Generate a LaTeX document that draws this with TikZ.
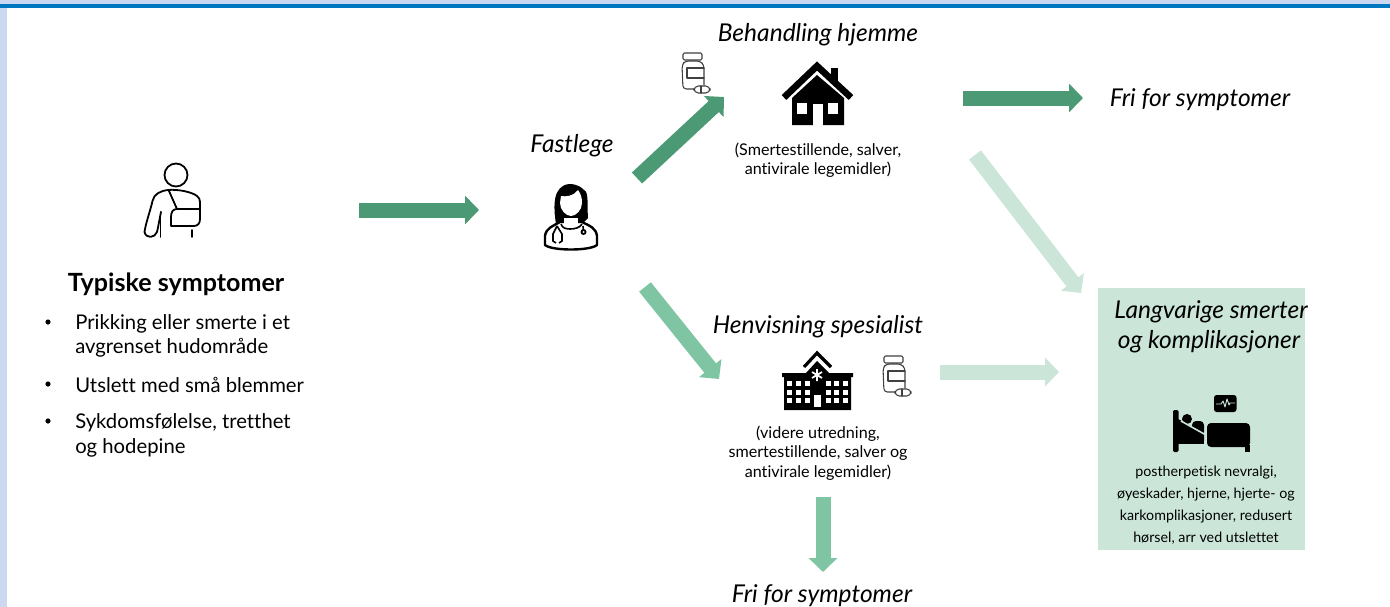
\documentclass[tikz,border=0pt]{standalone}
\usepackage{fontspec}
\setmainfont{Lato}[Ligatures=NoCommon]
\usetikzlibrary{arrows.meta}
\definecolor{gdark}{HTML}{4C9A75}
\definecolor{gmid}{HTML}{7FC4A3}
\definecolor{glight}{HTML}{CBE6D9}
\definecolor{bandlight}{HTML}{CCD7F0}
\definecolor{bandblue}{HTML}{0078C1}
\tikzset{
  x=0.75pt,y=-0.75pt,
  blockarrow/.style={line width=11.25pt,-{Triangle[length=10.5pt,width=21pt]}},
  heading/.style={font=\fontsize{18.4}{22}\selectfont\itshape,inner sep=0pt,anchor=center},
  title/.style={font=\fontsize{18.8}{22}\selectfont\bfseries,inner sep=0pt,anchor=center},
  bodytext/.style={font=\fontsize{15.2}{18}\selectfont,inner sep=0pt,anchor=west},
  smalltext/.style={font=\fontsize{12.1}{14.6}\selectfont,inner sep=0pt,align=center,anchor=center},
  boxtext/.style={font=\fontsize{10.7}{16.4}\selectfont,inner sep=0pt,align=center,anchor=center},
  iconline/.style={draw=black,line width=1.35pt,line join=round,line cap=round},
  bottleline/.style={draw=black!75,line width=.8pt,line join=round,line cap=round},
  pics/bottle/.style={code={
    \draw[bottleline,rounded corners=1pt] (3,1) rectangle (22,8);
    \draw[bottleline,rounded corners=2.5pt] (14,37) -- (3,37) -- (2,13) -- (5,9) -- (20,9) -- (24,13) -- (24,33);
    \draw[bottleline] (24,16) -- (7,16) -- (7,26) -- (24,26);
    \draw[bottleline,rounded corners=3.3pt] (14,34) rectangle (30,41);
    \draw[bottleline] (21,34) -- (21,41);
  }},
}
\begin{document}
\begin{tikzpicture}
\useasboundingbox (0,0) rectangle (1390,607);
\fill[white] (0,0) rectangle (1390,607);
\fill[bandlight] (0,0) rectangle (1390,4);
\fill[bandlight] (0,0) rectangle (7,607);
\fill[bandblue] (0,4) rectangle (1390,8);
% outcome box
\node[fill=glight,minimum width=155.25pt,minimum height=196.5pt,inner sep=0pt,anchor=north west] (box) at (1098,288) {};
% arrows
\coordinate (a1s) at (359,210); \coordinate (a1e) at (479,210);
\coordinate (a2s) at (637,178); \coordinate (a2e) at (724,97);
\coordinate (a3s) at (645,287); \coordinate (a3e) at (719,379);
\coordinate (a4s) at (963,98); \coordinate (a4e) at (1083,98);
\coordinate (a5s) at (975,155); \coordinate (a5e) at (1081,293);
\coordinate (a6s) at (940,372); \coordinate (a6e) at (1059,372);
\coordinate (a7s) at (823,497); \coordinate (a7e) at (823,572);
\draw[blockarrow,gdark] (a1s) -- (a1e);
\draw[blockarrow,gdark] (a2s) -- (a2e);
\draw[blockarrow,gmid] (a3s) -- (a3e);
\draw[blockarrow,gdark] (a4s) -- (a4e);
\draw[blockarrow,glight] (a5s) -- (a5e);
\draw[blockarrow,glight] (a6s) -- (a6e);
\draw[blockarrow,gmid] (a7s) -- (a7e);
% patient icon
\draw[iconline] (176,175) circle (11.5);
\draw[iconline] (161,212) .. controls (159,222) and (158,228) .. (157,232) .. controls (155,238) and (146,239) .. (144.5,232) .. controls (146,222) and (150,212) .. (152.5,201) .. controls (154,194) and (160,191) .. (168,190) .. controls (178,189) and (192,192) .. (197,196) .. controls (199,198) and (200,199) .. (200,202) -- (200,219) .. controls (200,223) and (198,226) .. (194,226) -- (171,226) -- (171,217) .. controls (171,212) and (173,209) .. (177,209) -- (200,209);
\draw[iconline] (169,191) -- (177,209);
\draw[iconline] (160.5,212) -- (160.5,237);
\draw[iconline] (192,230) -- (192,237);
% doctor icon
\fill[black] (556,224) .. controls (553,205) and (553,186) .. (569,184) .. controls (578,184) and (582,188) .. (584,190) .. controls (589,192) and (587,205) .. (588,218) -- (584,222) -- (556,224) -- cycle;
\fill[white] (561,196) .. controls (566,197) and (574,196) .. (578,190) .. controls (581,194) and (582,198) .. (582,203) .. controls (582,210) and (576,216) .. (571,216) .. controls (566,216) and (560,210) .. (560,203) -- cycle;
\draw[black,line width=1.8pt,fill=white,line join=round] (560,222) -- (582,222) .. controls (590,226) and (596,228) .. (597,236) -- (597,245) .. controls (590,251) and (552,251) .. (545,245) -- (545,236) .. controls (546,228) and (553,226) .. (560,222) -- cycle;
\fill[white] (564,218) rectangle (578,224);
\draw[black,line width=1.2pt] (561,224) .. controls (562,228) and (566,229) .. (570,229) .. controls (574,229) and (580,228) .. (582,224);
\draw[black,line width=1.2pt] (557,226) -- (553,234) -- (553,241) -- (556,243);
\draw[black,line width=1.2pt] (557,226) -- (562,234) -- (562,241) -- (559,243);
\draw[black,line width=1.2pt] (583,226) -- (583.5,232);
\fill[black] (583.5,232) circle (3);
\fill[white] (583.5,232) circle (1);
% house icon
\fill[black] (831,68) rectangle (838,84);
\draw[black,line width=5pt,line join=miter] (784,97.5) -- (817,66) -- (851,97.5);
\fill[black] (792,125) -- (792,98) -- (817,75) -- (844,98) -- (844,125) -- cycle;
\fill[white] (797,103) rectangle (807,114);
\fill[white] (828,103) rectangle (838,114);
\fill[white] (813,104) rectangle (823,125.5);
% hospital icon
\draw[black,line width=2.4pt,line join=miter] (804,367) -- (817,353) -- (831,367);
\fill[black] (784,410) -- (784,377) -- (782,377) -- (782,373) -- (806,373) -- (817,361) -- (829,373) -- (853,373) -- (853,377) -- (851,377) -- (851,410) -- cycle;
\foreach \yy in {381,389.5,398}{
  \foreach \xx in {787,796,804.5,825.5,834,843}{
    \fill[white] (\xx,\yy) rectangle ++(5,5);
  }
}
\fill[white] (814,395) rectangle (821,407);
\draw[white,line width=1.3pt] (817,369) -- (817,381) (812,372) -- (822,378) (812,378) -- (822,372);
% bed icon
\fill[black,rounded corners=1pt] (1173,410) rectangle (1178.5,452);
\fill[black] (1178,441) rectangle (1204,444);
\fill[black] (1178,419) -- (1204,433) -- (1204,441) -- (1178,441) -- cycle;
\fill[black] (1187,419) circle (5);
\fill[black,rounded corners=3pt] (1192,421) rectangle (1204,436);
\draw[glight,line width=1.2pt] (1181,421) -- (1205,434.5);
\fill[black,rounded corners=3pt] (1207,423) -- (1250,423) -- (1250,447) -- (1207,447) -- cycle;
\fill[black] (1245,445) rectangle (1250,452);
\fill[black,rounded corners=2pt] (1214,395) rectangle (1236.5,412);
\draw[glight,line width=.7pt,line join=round] (1216,404) -- (1221,404) -- (1223,401) -- (1225,407) -- (1227,399) -- (1229,405) -- (1230,403) -- (1235,403);
% bottles
\pic at (680,52) {bottle};
\pic at (881,355) {bottle};
% texts
\node[title] (t1) at (176,284) {Typiske symptomer};
\foreach \yy in {322,384,421}{
  \fill[black] (48,\yy) circle (2.6);
}
\node[bodytext] (l1) at (75,324) {Prikking eller smerte i et};
\node[bodytext] (l2) at (75,348) {avgrenset hudområde};
\node[bodytext] (l3) at (75,385) {Utslett med små blemmer};
\node[bodytext] (l4) at (75,423) {Sykdomsfølelse, tretthet};
\node[bodytext] (l5) at (75,448) {og hodepine};
\node[heading] (fl) at (572,146) {Fastlege};
\node[heading] (bh) at (818,35) {Behandling hjemme};
\node[heading] (fs1) at (1200,100) {Fri for symptomer};
\node[heading] (hs) at (818,327) {Henvisning spesialist};
\node[heading] (fs2) at (822,596) {Fri for symptomer};
\node[heading] (ls1) at (1211,312) {Langvarige smerter};
\node[heading] (ls2) at (1209,342) {og komplikasjoner};
\node[smalltext] (s1) at (818,160) {(Smertestillende, salver,\\antivirale legemidler)};
\node[smalltext] (s2) at (818,453) {(videre utredning,\\smertestillende, salver og\\antivirale legemidler)};
\node[boxtext] (s3) at (1206,505) {postherpetisk nevralgi,\\øyeskader, hjerne, hjerte- og\\karkomplikasjoner, redusert\\hørsel, arr ved utslettet};
\end{tikzpicture}
\end{document}
